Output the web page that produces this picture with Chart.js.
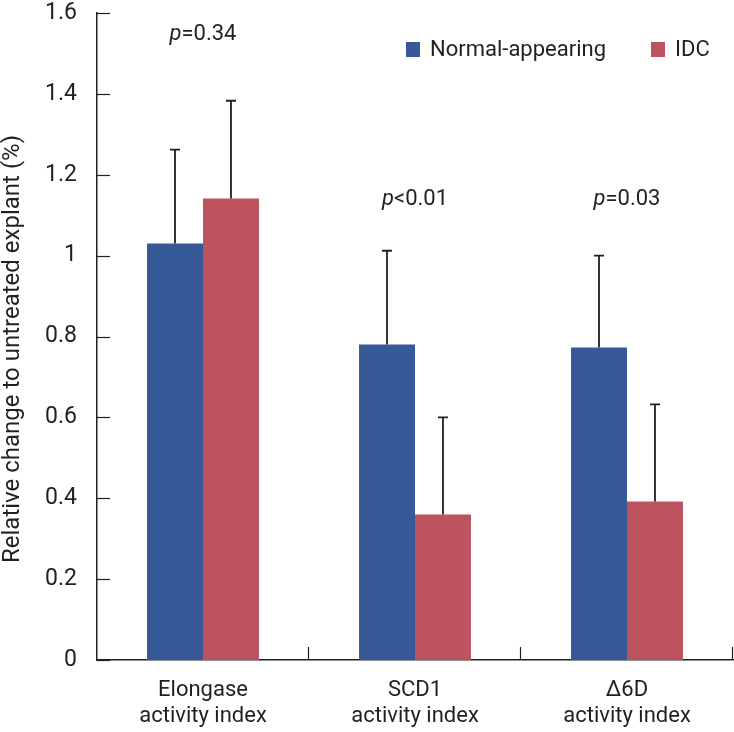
<!DOCTYPE html>
<html>
<head>
<meta charset="utf-8">
<script src="https://cdn.jsdelivr.net/npm/chart.js@4"></script>
<style>
  body { margin: 0; background: #fff; }
  #wrap { width: 734px; height: 732px; }
</style>
</head>
<body>
<div id="wrap"><canvas id="chart-activity"></canvas></div>
<script>
const categories = [['Elongase', 'activity index'], ['SCD1', 'activity index'], ['\u0394' + '6D', 'activity index']];
const normal = [1.03, 0.78, 0.773];
const idc = [1.141, 0.36, 0.392];
const normalSD = [0.232, 0.232, 0.227];
const idcSD = [0.242, 0.24, 0.24];
const pText = ['=0.34', '<0.01', '=0.03'];
const pAt = [1.548, 1.138, 1.138];

const ink = '#231f20';
const fontName = 'Roboto';

// error bars (upper only), inward tick marks, p values and legend
const extras = {
  id: 'extras',
  afterDatasetsDraw(chart) {
    const ctx = chart.ctx;
    const x = chart.scales.x;
    const y = chart.scales.y;
    const area = chart.chartArea;

    ctx.save();
    ctx.strokeStyle = ink;
    ctx.lineWidth = 1.8;
    const sds = [normalSD, idcSD];
    chart.data.datasets.forEach((ds, d) => {
      const meta = chart.getDatasetMeta(d);
      meta.data.forEach((bar, i) => {
        const top = y.getPixelForValue(ds.data[i] + sds[d][i]);
        ctx.beginPath();
        ctx.moveTo(bar.x, bar.y);
        ctx.lineTo(bar.x, top);
        ctx.moveTo(bar.x - 5, top);
        ctx.lineTo(bar.x + 5, top);
        ctx.stroke();
      });
    });

    // y ticks pointing into the plot
    ctx.lineWidth = 1.2;
    y.ticks.forEach(t => {
      const py = Math.round(y.getPixelForValue(t.value)) + 0.5;
      ctx.beginPath();
      ctx.moveTo(area.left, py);
      ctx.lineTo(area.left + 13, py);
      ctx.stroke();
    });
    // category separators on the x axis
    for (let i = 0; i < categories.length; i++) {
      const px = Math.round(x.getPixelForValue(i) + (x.getPixelForValue(1) - x.getPixelForValue(0)) / 2) - 0.5;
      ctx.beginPath();
      ctx.moveTo(px, area.bottom);
      ctx.lineTo(px, area.bottom - 13);
      ctx.stroke();
    }

    // p values
    ctx.fillStyle = ink;
    ctx.textBaseline = 'middle';
    pText.forEach((t, i) => {
      const cx = x.getPixelForValue(i);
      const cy = y.getPixelForValue(pAt[i]);
      ctx.font = 'italic 22px ' + fontName;
      const wp = ctx.measureText('p').width;
      ctx.font = '22px ' + fontName;
      const wt = ctx.measureText(t).width;
      const x0 = cx - (wp + wt) / 2;
      ctx.textAlign = 'left';
      ctx.font = 'italic 22px ' + fontName;
      ctx.fillText('p', x0, cy);
      ctx.font = '22px ' + fontName;
      ctx.fillText(t, x0 + wp, cy);
    });

    // legend
    let lx = 406;
    const ly = 49;
    ctx.font = '22px ' + fontName;
    chart.data.datasets.forEach(ds => {
      ctx.fillStyle = ds.backgroundColor;
      ctx.fillRect(lx, ly - 7, 14, 15);
      ctx.fillStyle = ink;
      ctx.fillText(ds.label, lx + 24, ly + 1);
      lx = 651;
    });

    // y axis title, drawn by hand to sit where the original one does
    ctx.translate(13, 349);
    ctx.rotate(-Math.PI / 2);
    ctx.textAlign = 'center';
    ctx.font = '24px ' + fontName;
    ctx.fillText('Relative change to untreated explant (%)', 0, 0);
    ctx.restore();
  }
};

const dataActivity = {
  labels: categories,
  datasets: [{
    label: 'Normal-appearing',
    backgroundColor: '#375997',
    data: normal
  },
  {
    label: 'IDC',
    backgroundColor: '#bd535e',
    data: idc
  }]
};

const configActivity = {
  type: 'bar',
  data: dataActivity,
  options: {
    responsive: true,
    maintainAspectRatio: false,
    animation: false,
    layout: {
      padding: { left: 0, right: 1, top: 13, bottom: 0 }
    },
    datasets: {
      bar: { categoryPercentage: 0.528, barPercentage: 1.0 }
    },
    plugins: {
      legend: { display: false },
      tooltip: { enabled: false }
    },
    scales: {
      x: {
        grid: { display: false, drawTicks: false },
        border: { display: true, color: ink, width: 1.5 },
        ticks: {
          color: ink,
          padding: 17,
          font: { family: fontName, size: 22, lineHeight: 1.2 }
        },
        afterFit(scale) {
          scale.height = 72;
          scale.paddingLeft = 0;
          scale.paddingRight = 0;
        }
      },
      y: {
        min: 0,
        max: 1.6,
        grid: { display: false, drawTicks: false },
        border: { display: true, color: ink, width: 1.5 },
        ticks: {
          stepSize: 0.2,
          color: ink,
          padding: 20,
          font: { family: fontName, size: 23 },
          callback: v => String(Math.round(v * 10) / 10)
        },
        afterFit(scale) {
          scale.width = 97;
          scale.paddingTop = 0;
          scale.paddingBottom = 0;
        }
      }
    }
  },
  plugins: [extras]
};

const chartActivity = new Chart(
  document.getElementById('chart-activity'),
  configActivity
);
</script>
</body>
</html>
